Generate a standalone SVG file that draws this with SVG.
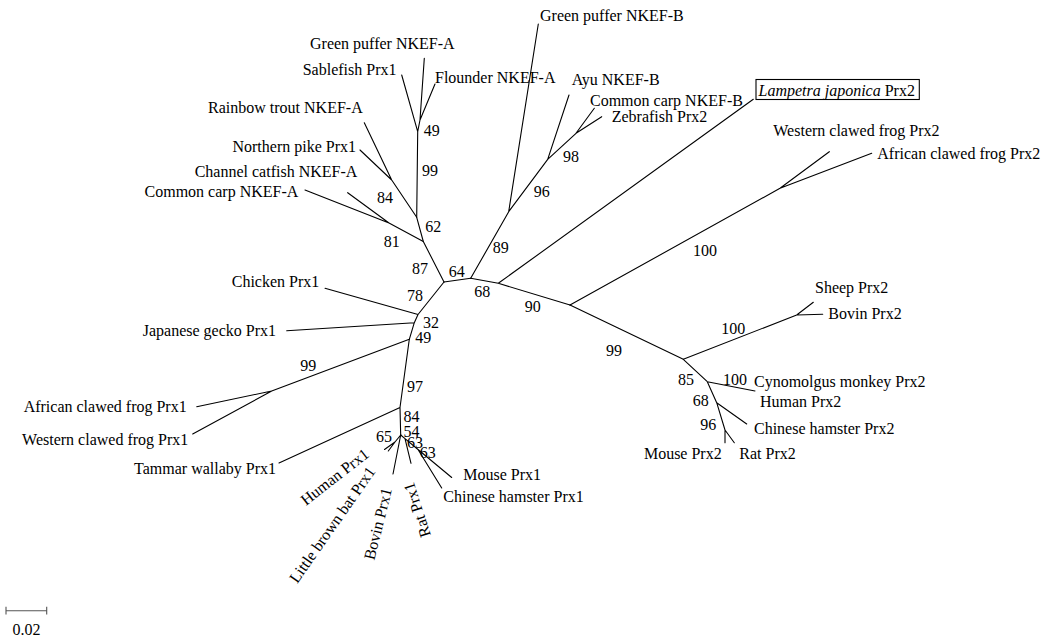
<svg xmlns="http://www.w3.org/2000/svg" width="1047" height="637" viewBox="0 0 1047 637">
<style>
text{font-family:"Liberation Serif","Times New Roman",serif;font-size:16px;fill:#000}
.e{text-anchor:end}
.m{text-anchor:middle}
.br{fill:none;stroke:#000;stroke-width:1.1;stroke-linecap:round;stroke-linejoin:round}
</style>
<rect width="1047" height="637" fill="#fff"/>
<g id="connectors" class="br">
<path d="M444,282 L470.7,278.3"/>
<path d="M444,282 L423.3,241.5 L389,223 L305,190 M389,223 L347.7,192.7"/>
<path d="M423.3,241.5 L416.7,217.3 L391.7,180 L364.3,122.7 M391.7,180 L360,150"/>
<path d="M416.7,217.3 L417.7,131.7 L401.7,75 M417.7,131.7 L420,120 L424.3,58.3 M420,120 L435,84"/>
<path d="M470.7,278.3 L508.7,211.7 L538.3,24 M508.7,211.7 L547.7,159.3 L569,95 M547.7,159.3 L576,133.3 L594.3,108.3 M576,133.3 L601.7,116.7"/>
<path d="M470.7,278.3 L498.3,283.3 L753.3,99.3 M498.3,283.3 L570,305"/>
<path d="M570,305 L780,188.3 L829.3,151.7 M780,188.3 L871.7,153.3"/>
<path d="M570,305 L683.3,359.3 L796.7,315 L813.3,302.3 M796.7,315 L822.7,314.3"/>
<path d="M683.3,359.3 L707.3,381.7 L755,391 M707.3,381.7 L716.7,402.7 L746.7,424 M716.7,402.7 L725,430 L725,442.7 M725,430 L734.3,442.7"/>
<path d="M444,282 L418,314.5 L325,288.3 M418,314.5 L414.3,322.7 L286.7,330.7 M414.3,322.7 L409.3,339.3 L271.7,391 L196.7,406.7 M271.7,391 L192.7,434"/>
<path d="M409.3,339.3 L400,407.5 L279,463 M400,407.5 L400.7,435"/>
<path d="M400.7,435 L395,442 L384.5,449.5 M395,442 L388.3,451 M400.7,435 L393,474"/>
<path d="M400.7,435 L405,438.6 L411,463.3 M405,438.6 L418,449.5 L451.7,477.5 M418,449.5 L441.7,488"/>
</g>
<g id="n-green-puffer-a"><text x="310" y="48.5">Green puffer NKEF-A</text></g>
<g id="n-sablefish"><text x="302.7" y="75">Sablefish Prx1</text></g>
<g id="n-flounder"><text x="435" y="82.5">Flounder NKEF-A</text></g>
<g id="n-rainbow"><text class="e" x="362.7" y="112.5">Rainbow trout NKEF-A</text></g>
<g id="n-pike"><text class="e" x="356" y="152">Northern pike Prx1</text></g>
<g id="n-catfish"><text class="e" x="357.3" y="177">Channel catfish NKEF-A</text></g>
<g id="n-carp-a"><text class="e" x="298.3" y="197">Common carp NKEF-A</text></g>
<g id="n-green-puffer-b"><text x="540" y="20.5">Green puffer NKEF-B</text></g>
<g id="n-ayu"><text x="571.7" y="84.5">Ayu NKEF-B</text></g>
<g id="n-carp-b"><text x="590" y="105.5">Common carp NKEF-B</text></g>
<g id="n-zebrafish"><text x="611.7" y="122">Zebrafish Prx2</text></g>
<g id="n-lampetra"><rect x="756" y="79.5" width="163.3" height="20" fill="none" stroke="#000" stroke-width="1.1"/><text x="758.5" y="96"><tspan font-style="italic">Lampetra japonica</tspan> Prx2</text></g>
<g id="n-western-prx2"><text x="773.3" y="135.5">Western clawed frog Prx2</text></g>
<g id="n-african-prx2"><text x="877.3" y="159">African clawed frog Prx2</text></g>
<g id="n-sheep"><text x="815" y="293">Sheep Prx2</text></g>
<g id="n-bovin-prx2"><text x="828.3" y="319">Bovin Prx2</text></g>
<g id="n-cyno"><text x="754" y="387">Cynomolgus monkey Prx2</text></g>
<g id="n-human-prx2"><text x="760" y="407">Human Prx2</text></g>
<g id="n-hamster-prx2"><text x="754" y="434">Chinese hamster Prx2</text></g>
<g id="n-mouse-prx2"><text class="e" x="721.7" y="459">Mouse Prx2</text></g>
<g id="n-rat-prx2"><text x="739.3" y="459">Rat Prx2</text></g>
<g id="n-chicken"><text class="e" x="319.3" y="287">Chicken Prx1</text></g>
<g id="n-gecko"><text class="e" x="276" y="336">Japanese gecko Prx1</text></g>
<g id="n-african-prx1"><text class="e" x="186.7" y="412">African clawed frog Prx1</text></g>
<g id="n-western-prx1"><text class="e" x="188.3" y="444.5">Western clawed frog Prx1</text></g>
<g id="n-wallaby"><text class="e" x="276" y="473.5">Tammar wallaby Prx1</text></g>
<g id="n-human-prx1"><text class="e" transform="translate(370,456) rotate(-38)">Human Prx1</text></g>
<g id="n-bat"><text class="e" transform="translate(376,471.5) rotate(-55)">Little brown bat Prx1</text></g>
<g id="n-bovin-prx1"><text class="e" transform="translate(392,489.6) rotate(-76)">Bovin Prx1</text></g>
<g id="n-rat-prx1"><text class="e" transform="translate(413.5,481.5) rotate(-108)">Rat Prx1</text></g>
<g id="n-mouse-prx1"><text x="463.3" y="479.5">Mouse Prx1</text></g>
<g id="n-hamster-prx1"><text x="443.3" y="501.5">Chinese hamster Prx1</text></g>
<g id="bootstrap" class="m">
<text class="m" x="431.7" y="135.5">49</text>
<text class="m" x="430" y="175.5">99</text>
<text class="m" x="385" y="202.5">84</text>
<text class="m" x="433.3" y="231.7">62</text>
<text class="m" x="391.7" y="247">81</text>
<text class="m" x="420" y="273.5">87</text>
<text class="m" x="456.7" y="277">64</text>
<text class="m" x="500.7" y="253">89</text>
<text class="m" x="482.3" y="297">68</text>
<text class="m" x="532.7" y="312">90</text>
<text class="m" x="541.7" y="197">96</text>
<text class="m" x="571" y="162">98</text>
<text class="m" x="705" y="255.5">100</text>
<text class="m" x="614" y="355.5">99</text>
<text class="m" x="733.3" y="333.5">100</text>
<text class="m" x="686" y="384.5">85</text>
<text class="m" x="735" y="384.5">100</text>
<text class="m" x="700.7" y="405.5">68</text>
<text class="m" x="708.3" y="429.5">96</text>
<text class="m" x="415" y="300.5">78</text>
<text class="m" x="431" y="328">32</text>
<text class="m" x="423.3" y="342.7">49</text>
<text class="m" x="415" y="391.5">97</text>
<text class="m" x="308.3" y="370.5">99</text>
<text class="m" x="411.5" y="422">84</text>
<text class="m" x="411.5" y="437">54</text>
<text class="m" x="384" y="442">65</text>
<text class="m" x="415" y="448">63</text>
<text class="m" x="427.7" y="457.5">63</text>
</g>
<g id="scale">
<path d="M6,610.7 L46.7,610.7 M6,606.7 L6,614.5 M46.7,606.7 L46.7,614.5" fill="none" stroke="#555" stroke-width="1.1"/>
<text x="12.5" y="635">0.02</text>
</g>
</svg>
